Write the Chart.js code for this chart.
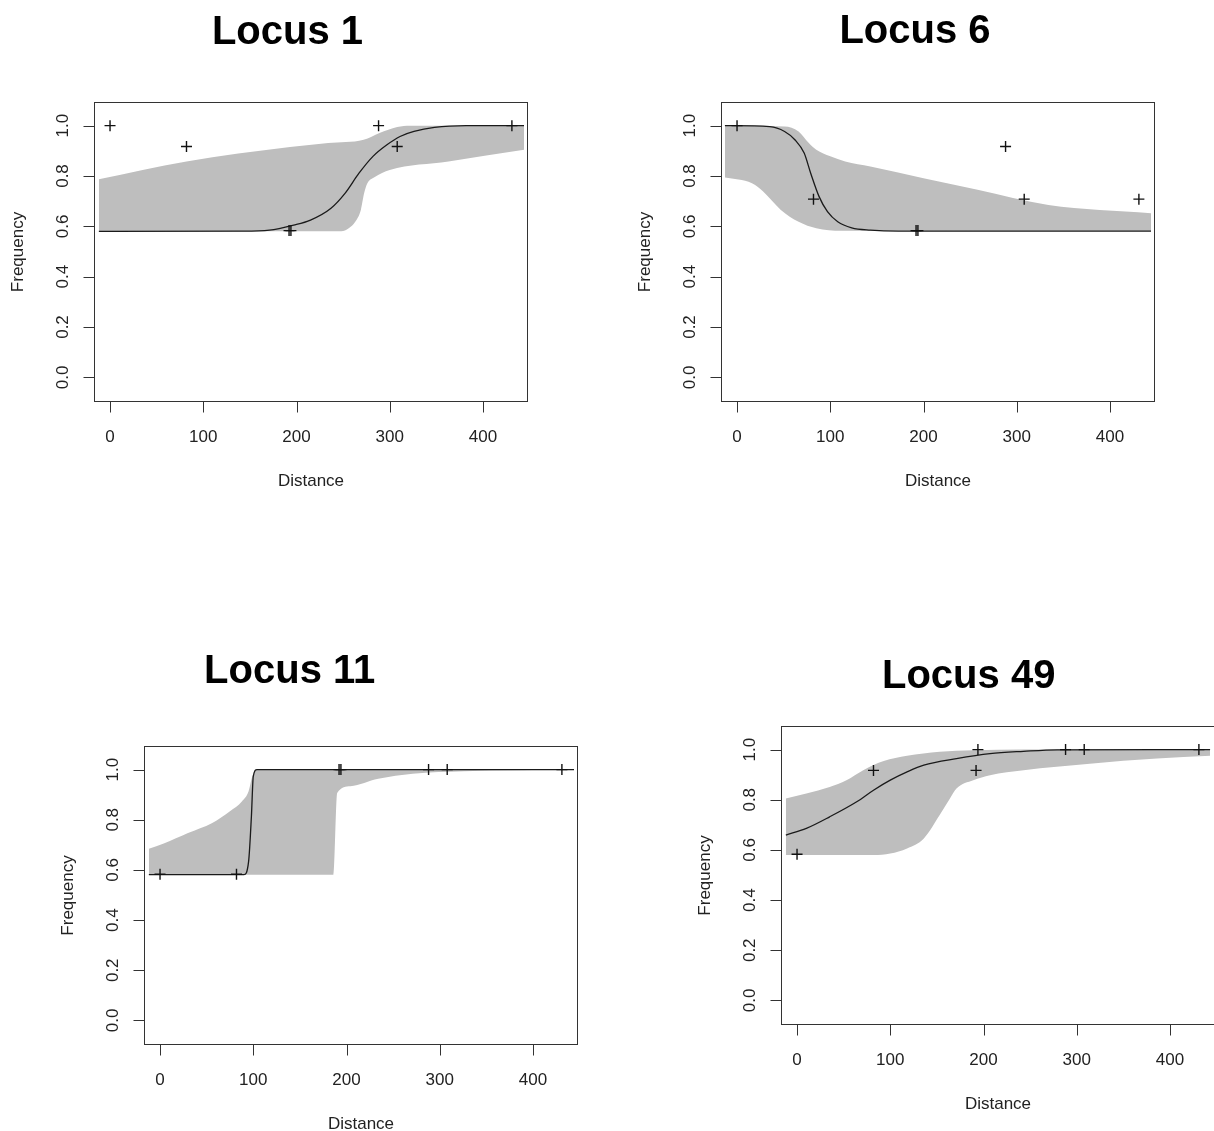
<!DOCTYPE html>
<html>
<head>
<meta charset="utf-8">
<script src="https://cdn.jsdelivr.net/npm/chart.js@4.4.1/dist/chart.umd.min.js"></script>
<style>
  html, body { margin: 0; padding: 0; background: #fff; overflow: hidden; width: 1214px; height: 1131px; }
  canvas { position: absolute; left: 0; top: 0; }
</style>
</head>
<body>
<canvas id="locus1" width="1240" height="1131"></canvas>
<canvas id="locus6" width="1240" height="1131"></canvas>
<canvas id="locus11" width="1240" height="1131"></canvas>
<canvas id="locus49" width="1240" height="1131"></canvas>
<script>
// ---- Sampling sites and observed allele frequencies ----
const distances = [0, 82, 192, 194, 288, 308, 431];
const freqLocus1  = [1.0, 0.917, 0.583, 0.583, 1.0, 0.917, 1.0];
const freqLocus6  = [1.0, 0.708, 0.583, 0.583, 0.917, 0.708, 0.708];
const freqLocus11 = [0.583, 0.583, 1.0, 1.0, 1.0, 1.0, 1.0];
const freqLocus49 = [0.583, 0.917, 0.917, 1.0, 1.0, 1.0, 1.0];

// ---- Axis ticks ----
const xTicks = [0, 100, 200, 300, 400];
const xTickLabels = ['0', '100', '200', '300', '400'];
const yTicks = [0, 0.2, 0.4, 0.6, 0.8, 1.0];
const yTickLabels = ['0.0', '0.2', '0.4', '0.6', '0.8', '1.0'];

// ---- Locus 1: fitted cline and confidence band ----
const clineXLocus1 = [-12, 141, 171, 197, 215, 237, 252, 267, 282, 297, 311, 326, 348, 382, 444];
const clineYLocus1 = [0.58, 0.581, 0.585, 0.605, 0.625, 0.672, 0.731, 0.811, 0.878, 0.924, 0.957, 0.977, 0.993, 1.0, 1.0];
const upperXLocus1 = [-12, 82, 193, 234, 272, 289, 308, 322, 444];
const upperYLocus1 = [0.787, 0.858, 0.915, 0.931, 0.944, 0.971, 0.995, 1.0, 1.0];
const lowerXLocus1 = [-12, 248, 256, 263, 269, 272.5, 276, 283.5, 300, 363, 444];
const lowerYLocus1 = [0.58, 0.58, 0.592, 0.618, 0.665, 0.731, 0.771, 0.795, 0.824, 0.858, 0.904];

// ---- Locus 6 ----
const clineXLocus6 = [-13, 35, 51, 62, 72, 79, 88, 97, 108, 123, 143, 173, 444];
const clineYLocus6 = [1.0, 0.996, 0.977, 0.944, 0.891, 0.811, 0.718, 0.658, 0.618, 0.594, 0.585, 0.581, 0.581];
const upperXLocus6 = [-13, 51, 66, 77, 85, 100, 116, 143, 200, 258, 334, 444];
const upperYLocus6 = [1.0, 0.997, 0.977, 0.931, 0.904, 0.878, 0.858, 0.838, 0.791, 0.745, 0.685, 0.652];
const lowerXLocus6 = [-13, 16, 28, 47, 66, 85, 112, 444];
const lowerYLocus6 = [0.794, 0.771, 0.738, 0.665, 0.618, 0.592, 0.582, 0.581];

// ---- Locus 11 ----
const clineXLocus11 = [-12, 90, 95, 98, 100, 104, 444];
const clineYLocus11 = [0.581, 0.581, 0.634, 0.814, 0.973, 1.0, 1.0];
const upperXLocus11 = [-12, 4, 30, 56, 75, 88, 95, 99, 103.5, 444];
const upperYLocus11 = [0.684, 0.705, 0.747, 0.787, 0.834, 0.874, 0.914, 0.973, 1.0, 1.0];
const lowerXLocus11 = [-12, 186, 190, 204, 234, 271, 326, 444];
const lowerYLocus11 = [0.581, 0.581, 0.907, 0.934, 0.963, 0.983, 0.993, 1.0];

// ---- Locus 49 ----
const clineXLocus49 = [-12, 10, 35, 64, 82, 100, 118, 136, 171, 207, 243, 279, 443];
const clineYLocus49 = [0.659, 0.686, 0.732, 0.792, 0.838, 0.878, 0.911, 0.938, 0.964, 0.984, 0.993, 0.999, 1.0];
const upperXLocus49 = [-12, 10, 35, 53, 71, 93, 118, 153, 189, 243, 443];
const upperYLocus49 = [0.805, 0.825, 0.851, 0.878, 0.918, 0.954, 0.975, 0.991, 0.997, 1.0, 1.0];
const lowerXLocus49 = [-12, 82, 100, 118, 136, 153, 164, 171, 189, 207, 243, 314, 386, 443];
const lowerYLocus49 = [0.58, 0.58, 0.586, 0.606, 0.646, 0.739, 0.805, 0.845, 0.878, 0.898, 0.918, 0.944, 0.964, 0.975];

// ---- Panel placement on the page (plot box and title anchor) ----
const CANVAS_W = 1240, CANVAS_H = 1131;
const panels = [
  { id: 'locus1', title: 'Locus 1', box: { l: 94, r: 527, t: 102, b: 401 }, titleAt: [287.5, 44],
    freq: freqLocus1, cx: clineXLocus1, cy: clineYLocus1,
    ux: upperXLocus1, uy: upperYLocus1, lx: lowerXLocus1, ly: lowerYLocus1 },
  { id: 'locus6', title: 'Locus 6', box: { l: 721, r: 1154, t: 102, b: 401 }, titleAt: [915, 43],
    freq: freqLocus6, cx: clineXLocus6, cy: clineYLocus6,
    ux: upperXLocus6, uy: upperYLocus6, lx: lowerXLocus6, ly: lowerYLocus6 },
  { id: 'locus11', title: 'Locus 11', box: { l: 144, r: 577, t: 746, b: 1044 }, titleAt: [289.7, 683],
    freq: freqLocus11, cx: clineXLocus11, cy: clineYLocus11,
    ux: upperXLocus11, uy: upperYLocus11, lx: lowerXLocus11, ly: lowerYLocus11 },
  { id: 'locus49', title: 'Locus 49', box: { l: 781, r: 1214, t: 726, b: 1024 }, titleAt: [968.7, 688],
    freq: freqLocus49, cx: clineXLocus49, cy: clineYLocus49,
    ux: upperXLocus49, uy: upperYLocus49, lx: lowerXLocus49, ly: lowerYLocus49 }
];

const FONT = '"Liberation Sans", Arial, Helvetica, sans-serif';
const INK = '#222';

// R-style base-graphics frame: box, outward ticks, rotated y labels, titles
const baseAxes = {
  id: 'baseAxes',
  afterDraw(chart, args, opts) {
    const { ctx, chartArea: a, scales: { x, y } } = chart;
    const L = Math.round(a.left) + 0.5, R = Math.round(a.right) + 0.5;
    const T = Math.round(a.top) + 0.5, B = Math.round(a.bottom) + 0.5;
    ctx.save();
    ctx.strokeStyle = '#333';
    ctx.lineWidth = 1;
    ctx.strokeRect(L, T, R - L, B - T);

    ctx.beginPath();
    xTicks.forEach(v => {
      const px = Math.round(x.getPixelForValue(v)) + 0.5;
      ctx.moveTo(px, B); ctx.lineTo(px, B + 11);
    });
    yTicks.forEach(v => {
      const py = Math.round(y.getPixelForValue(v)) + 0.5;
      ctx.moveTo(L, py); ctx.lineTo(L - 11, py);
    });
    ctx.stroke();

    ctx.fillStyle = INK;
    ctx.font = '17px ' + FONT;
    ctx.textAlign = 'center';
    ctx.textBaseline = 'alphabetic';
    xTicks.forEach((v, i) => ctx.fillText(xTickLabels[i], x.getPixelForValue(v), B + 40));
    ctx.fillText('Distance', (L + R) / 2, B + 84);

    ctx.textBaseline = 'middle';
    yTicks.forEach((v, i) => {
      ctx.save();
      ctx.translate(L - 31, y.getPixelForValue(v));
      ctx.rotate(-Math.PI / 2);
      ctx.fillText(yTickLabels[i], 0, 0);
      ctx.restore();
    });
    ctx.save();
    ctx.translate(L - 76, (T + B) / 2);
    ctx.rotate(-Math.PI / 2);
    ctx.fillText('Frequency', 0, 0);
    ctx.restore();

    ctx.fillStyle = '#000';
    ctx.font = 'bold 40px ' + FONT;
    ctx.textBaseline = 'alphabetic';
    ctx.fillText(opts.title, opts.titleAt[0], opts.titleAt[1]);
    ctx.restore();
  }
};

function pairs(xs, ys) { return xs.map((v, i) => ({ x: v, y: ys[i] })); }

panels.forEach(p => {
  new Chart(document.getElementById(p.id), {
    type: 'line',
    data: {
      datasets: [
        { // observed frequencies
          data: pairs(distances, p.freq), showLine: false, order: 0,
          pointStyle: 'cross', pointRadius: 5.5, pointBorderWidth: 1.4,
          pointBorderColor: '#111', pointBackgroundColor: '#111'
        },
        { // fitted cline
          data: pairs(p.cx, p.cy), order: 1, borderColor: '#1a1a1a', borderWidth: 1.3,
          pointRadius: 0, cubicInterpolationMode: 'monotone', fill: false
        },
        { // lower confidence limit
          data: pairs(p.lx, p.ly), order: 3, borderWidth: 0, borderColor: 'rgba(0,0,0,0)',
          pointRadius: 0, cubicInterpolationMode: 'monotone', fill: false
        },
        { // upper confidence limit, shaded down to the lower one
          data: pairs(p.ux, p.uy), order: 2, borderWidth: 0, borderColor: 'rgba(0,0,0,0)',
          backgroundColor: '#bebebe', pointRadius: 0, cubicInterpolationMode: 'monotone', fill: '-1'
        }
      ]
    },
    options: {
      responsive: false,
      animation: false,
      devicePixelRatio: 1,
      layout: { padding: { left: p.box.l, right: CANVAS_W - p.box.r, top: p.box.t, bottom: CANVAS_H - p.box.b } },
      scales: {
        x: { type: 'linear', min: -17.2, max: 447.2, display: false },
        y: { type: 'linear', min: -0.094, max: 1.094, display: false }
      },
      plugins: {
        legend: { display: false },
        tooltip: { enabled: false },
        baseAxes: { title: p.title, titleAt: p.titleAt }
      }
    },
    plugins: [baseAxes]
  });
});
</script>
</body>
</html>
